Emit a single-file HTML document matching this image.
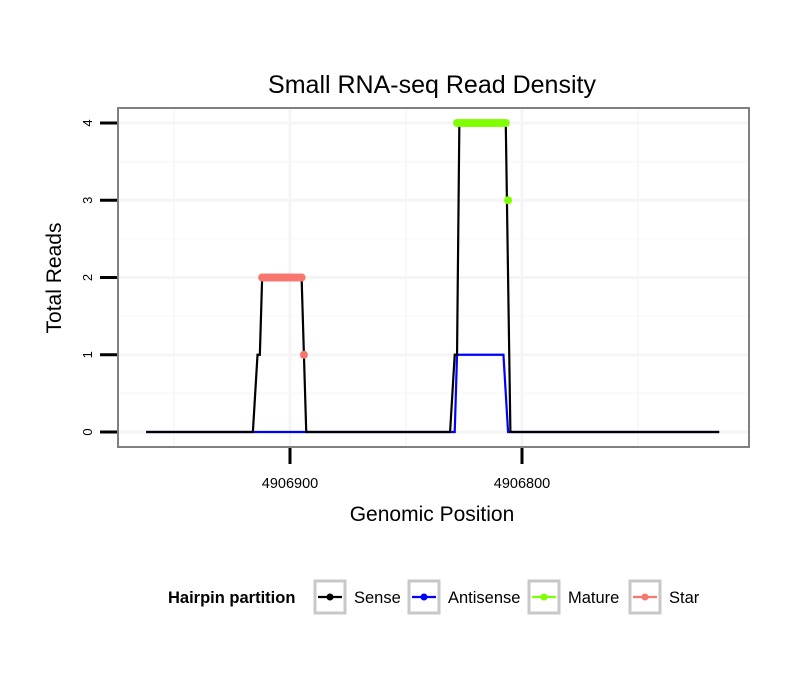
<!DOCTYPE html>
<html><head><meta charset="utf-8"><style>body{margin:0;background:#fff}svg{font-family:"Liberation Sans",sans-serif}</style></head>
<body>
<svg id="c" width="810" height="690" xmlns="http://www.w3.org/2000/svg"></svg>
<script>
const xTicks=[4906900,4906800];
const yTicks=[0,1,2,3,4];
const sensePos=[4906962,4906916,4906914,4906913,4906912,4906895,4906893,4906831,4906829,4906828,4906827,4906807,4906805,4906715];
const senseVal=[0,0,1,1,2,2,0,0,1,1,4,4,0,0];
const antiPos=[4906962,4906916,4906893,4906829,4906828,4906808,4906806,4906715];
const antiVal=[0,0,0,0,1,1,0,0];
const maturePos=[4906828,4906827,4906826,4906825,4906824,4906823,4906822,4906821,4906820,4906819,4906818,4906817,4906816,4906815,4906814,4906813,4906812,4906811,4906810,4906809,4906808,4906807,4906806];
const matureVal=[4,4,4,4,4,4,4,4,4,4,4,4,4,4,4,4,4,4,4,4,4,4,3];
const starPos=[4906912,4906911,4906910,4906909,4906908,4906907,4906906,4906905,4906904,4906903,4906902,4906901,4906900,4906899,4906898,4906897,4906896,4906895,4906894];
const starVal=[2,2,2,2,2,2,2,2,2,2,2,2,2,2,2,2,2,2,1];
const legendLabels=["Sense","Antisense","Mature","Star"];
const legendColors=["#000000","#0000ff","#7fff00","#f8766d"];

const svg=document.getElementById('c');
const NS='http://www.w3.org/2000/svg';
function X(p){return 290-(p-4906900)*2.32;}
function Y(v){return 432-v*77.25;}
function mk(t,a,parent){const e=document.createElementNS(NS,t);for(const k in a)e.setAttribute(k,a[k]);(parent||svg).appendChild(e);return e;}

[Y(0.5),Y(1.5),Y(2.5),Y(3.5)].forEach(y=>{const g=mk('line',{x1:118,x2:749,y1:y,y2:y,stroke:'#f9f9f9','stroke-width':1.5});

});
yTicks.forEach(v=>{const g=mk('line',{x1:118,x2:749,y1:Y(v),y2:Y(v),stroke:'#f5f5f5','stroke-width':3});

});
xTicks.concat([4906950,4906850,4906750]).forEach(p=>{const g=mk('line',{x1:X(p),x2:X(p),y1:108,y2:447,stroke:'#f5f5f5','stroke-width':p%100===0?3:1.5});

});

function path(ps,vs,col,name){let d=ps.map((p,i)=>(i?'L':'M')+X(p)+','+Y(vs[i])).join('');
const e=mk('path',{d:d,fill:'none',stroke:col,'stroke-width':2.2});

}
path(antiPos,antiVal,'#0000ff','antisense-line');
path(sensePos,senseVal,'#000000','sense-line');
function pts(ps,vs,col,name){ps.forEach((p,i)=>{const e=mk('circle',{cx:X(p),cy:Y(vs[i]),r:4,fill:col});

});}
pts(maturePos,matureVal,'#7fff00','mature-point');
pts(starPos,starVal,'#f8766d','star-point');

const border=mk('rect',{x:118,y:108,width:631,height:339,fill:'none',stroke:'#808080','stroke-width':2});



yTicks.forEach(v=>{const t=mk('line',{x1:100,x2:117,y1:Y(v),y2:Y(v),stroke:'#000','stroke-width':3});


const l=mk('text',{x:0,y:0,'font-size':13,'text-anchor':'middle',transform:`translate(92,${Y(v)}) rotate(-90)`});
l.textContent=v;

});
xTicks.forEach(p=>{const t=mk('line',{x1:X(p),x2:X(p),y1:448,y2:464,stroke:'#000','stroke-width':3});


const l=mk('text',{x:X(p),y:488,'font-size':14.5,'text-anchor':'middle'});
l.textContent=p;

});

const title=mk('text',{x:432,y:93,'font-size':25,'text-anchor':'middle'});title.textContent='Small RNA-seq Read Density';


const xt=mk('text',{x:432,y:521,'font-size':21,'text-anchor':'middle'});xt.textContent='Genomic Position';


const yt=mk('text',{x:0,y:0,'font-size':21,'text-anchor':'middle',transform:'translate(61,278) rotate(-90)'});yt.textContent='Total Reads';



const lt=mk('text',{x:168,y:603,'font-size':16.5,'font-weight':'bold'});lt.textContent='Hairpin partition';


const kx=[315,409,529,630];
legendLabels.forEach((s,i)=>{const g=mk('g',{});


mk('rect',{x:kx[i],y:581,width:30,height:32,fill:'#fff',stroke:'#c8c8c8','stroke-width':3},g);
mk('line',{x1:kx[i]+3,x2:kx[i]+27,y1:597,y2:597,stroke:legendColors[i],'stroke-width':2.2},g);
mk('circle',{cx:kx[i]+15,cy:597,r:3.5,fill:legendColors[i]},g);
const t=mk('text',{x:kx[i]+39,y:603,'font-size':16.5},g);t.textContent=s;});
</script>
</body></html>
